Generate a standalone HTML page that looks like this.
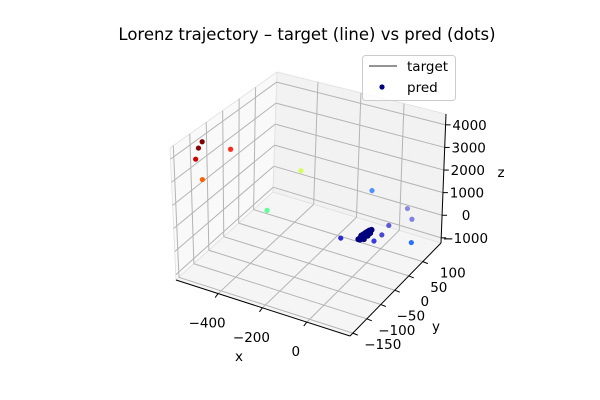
<!DOCTYPE html>
<html><head><meta charset="utf-8"><style>
html,body{margin:0;padding:0;background:#fff}
svg{display:block;font-family:"DejaVu Sans","Liberation Sans",sans-serif}
</style></head><body>
<svg id="chart" width="600" height="400" viewBox="0 0 600 400">
<text x="307" y="40" font-size="16.5" text-anchor="middle" fill="#000">Lorenz trajectory – target (line) vs pred (dots)</text>
<g id="panes"></g>
<g id="grid"></g>
<g id="axes"></g>
<g id="points"></g>
<text x="239" y="361" font-size="13.5" text-anchor="middle">x</text>
<text x="436" y="331" font-size="13.5" text-anchor="middle">y</text>
<text x="501" y="177" font-size="13.5" text-anchor="middle">z</text>
<g>
<rect x="362.5" y="55.5" width="93" height="45" rx="3" fill="#fff" fill-opacity="0.8" stroke="#ccc"/>
<line x1="369" y1="66" x2="397" y2="66" stroke="#555" stroke-width="1.3"/>
<text x="407" y="71" font-size="13.5">target</text>
<circle cx="382" cy="87" r="2.6" fill="#00007f"/>
<text x="407" y="92" font-size="13.5">pred</text>
</g>
</svg>
<script>
const xTicks=[-400,-200,0];
const yTicks=[-150,-100,-50,0,50,100];
const zTicks=[-1000,0,1000,2000,3000,4000];
const xLim=[-590,195], yLim=[-160,165], zLim=[-1228,4480];
const predX=[-551,-574,-582,-566,-472,-315,-394,-1,156,179,77,54,38,-40,187];
const predY=[-90,-86,-90,-82,-58,56,2,64,69,68,66,60,45,-12,62];
const predZ=[4137,3756,3287,2345,3680,1883,513,1760,1340,952,427,22,-109,473,38];
const predColor=['#800000','#8b0000','#cc0000','#ff6000','#ff2a1a','#d4ff5a','#5cff9a','#4d90ff','#8a8ae0','#8080e8','#5a5ad8','#4a4ad0','#3a3ae0','#2a2ad0','#2a70ff'];
const clusterX=[-14,-10,-6,-3,0,3,6,9,-12,-8,-4,0,4,8,-9,-5,-1,3,7,-2,2];
const clusterY=[30,34,38,42,46,50,54,58,34,38,42,46,50,54,36,40,44,48,52,40,50];
const clusterZ=[0,20,40,60,80,100,120,140,-60,-40,-20,0,20,40,100,120,140,160,180,-80,-40];
const C={'000':[176,280],'100':[350,336],'010':[273,192],'110':[441,243],'001':[170,148],'101':[352,196],'011':[277,72],'111':[446,114]};
function lerp(a,b,t){return [a[0]+(b[0]-a[0])*t,a[1]+(b[1]-a[1])*t];}
function proj(u,v,w){
  const b0=lerp(lerp(C['000'],C['100'],u),lerp(C['010'],C['110'],u),v);
  const b1=lerp(lerp(C['001'],C['101'],u),lerp(C['011'],C['111'],u),v);
  return lerp(b0,b1,w);
}
const ux=x=>(x-xLim[0])/(xLim[1]-xLim[0]);
const vy=y=>(y-yLim[0])/(yLim[1]-yLim[0]);
const wz=z=>(z-zLim[0])/(zLim[1]-zLim[0]);
const NS='http://www.w3.org/2000/svg';
function mk(tag,attrs,parent){const e=document.createElementNS(NS,tag);for(const k in attrs)e.setAttribute(k,attrs[k]);parent.appendChild(e);return e;}
const panes=document.getElementById('panes'),grid=document.getElementById('grid'),axes=document.getElementById('axes'),pts=document.getElementById('points'),svg=document.getElementById('chart');
function poly(list,fill,name){const p=mk('polygon',{points:list.map(c=>c.join(',')).join(' '),fill:fill,stroke:'#e0e0e0','stroke-width':0.8},panes);

}
poly([proj(0,0,0),proj(0,1,0),proj(0,1,1),proj(0,0,1)],'#f9f9f9','left-pane');
poly([proj(0,1,0),proj(1,1,0),proj(1,1,1),proj(0,1,1)],'#f2f2f2','back-pane');
poly([proj(0,0,0),proj(1,0,0),proj(1,1,0),proj(0,1,0)],'#f5f5f5','floor-pane');
function line(a,b,parent,stroke,sw,name){const l=mk('line',{x1:a[0],y1:a[1],x2:b[0],y2:b[1],stroke:stroke,'stroke-width':sw},parent);

return l;}
function text(x,y,s,anchor,name){const t=mk('text',{x:x,y:y,'font-size':13.5,'text-anchor':anchor},svg);t.textContent=s;

}
const fmt=n=>n<0?'\u2212'+Math.abs(n):String(n);
const GC='#b4b4b4', GW=1;
xTicks.forEach(t=>{const u=ux(t);
  line(proj(u,0,0),proj(u,1,0),grid,GC,GW,'x-grid-floor');
  line(proj(u,1,0),proj(u,1,1),grid,GC,GW,'x-grid-back');
  const p=proj(u,0,0);line(p,[p[0]-3,p[1]+4],axes,'#000',1,'x-tick');
  text(p[0]-11,p[1]+34,fmt(t),'middle','x-tick-label');});
yTicks.forEach(t=>{const v=vy(t);
  line(proj(0,v,0),proj(1,v,0),grid,GC,GW,'y-grid-floor');
  line(proj(0,v,0),proj(0,v,1),grid,GC,GW,'y-grid-left');
  const p=proj(1,v,0);line(p,[p[0]+5,p[1]+2],axes,'#000',1,'y-tick');
  text(p[0]+30,p[1]+16,fmt(t),'middle','y-tick-label');});
zTicks.forEach(t=>{const w=wz(t);
  line(proj(0,0,w),proj(0,1,w),grid,GC,GW,'z-grid-left');
  line(proj(0,1,w),proj(1,1,w),grid,GC,GW,'z-grid-back');
  const p=proj(1,1,w);line(p,[p[0]+5,p[1]],axes,'#000',1,'z-tick');
  text(p[0]+24,p[1]+5,fmt(t),'middle','z-tick-label');});
line(proj(0,0,0),proj(1,0,0),axes,'#000',1,'x-axis-line');
line(proj(1,0,0),proj(1,1,0),axes,'#000',1,'y-axis-line');
line(proj(1,1,0),proj(1,1,1),axes,'#000',1,'z-axis-line');
predX.forEach((x,i)=>{const p=proj(ux(x),vy(predY[i]),wz(predZ[i]));
  const c=mk('circle',{cx:p[0],cy:p[1],r:2.6,fill:predColor[i]},pts);
  
  });
clusterX.forEach((x,i)=>{const p=proj(ux(x),vy(clusterY[i]),wz(clusterZ[i]));
  const c=mk('circle',{cx:p[0],cy:p[1],r:3,fill:'#00007f'},pts);
  
  });
</script>
</body></html>
